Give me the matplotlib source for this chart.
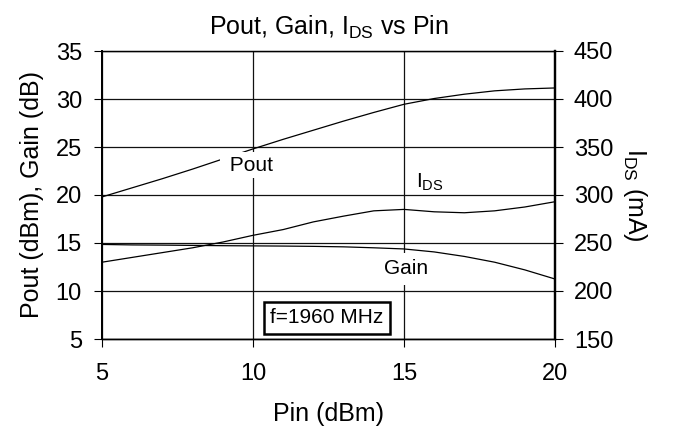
import matplotlib
matplotlib.use("Agg")
import matplotlib.pyplot as plt

plt.rcParams['font.family'] = ['Liberation Sans', 'DejaVu Sans']
plt.rcParams['mathtext.default'] = 'regular'

# data (Pin in dBm)
pin = [5, 6, 7, 8, 9, 10, 11, 12, 13, 14, 15, 16, 17, 18, 19, 20]
pout = [19.8, 20.75, 21.7, 22.7, 23.75, 24.8, 25.8, 26.75, 27.7, 28.6,
        29.45, 30.05, 30.5, 30.85, 31.05, 31.15]
gain = [14.85, 14.8, 14.78, 14.75, 14.72, 14.7, 14.68, 14.65, 14.6, 14.5,
        14.38, 14.07, 13.6, 13.0, 12.2, 11.25]
ids = [230, 235, 240, 245, 251, 258, 264, 272, 278, 283.5,
       285, 282.5, 281.5, 283.5, 287.5, 293]

xticks = [5, 10, 15, 20]
left_ticks = [5, 10, 15, 20, 25, 30, 35]
right_ticks = [150, 200, 250, 300, 350, 400, 450]

W, H = 673, 428
fig = plt.figure(figsize=(W / 100, H / 100), dpi=100)
ax = fig.add_axes([102 / W, 1 - 339 / H, 453 / W, 288 / H])
ax.set_axisbelow(True)

ax.plot(pin, pout, color='k', lw=0.9, zorder=3)
ax.plot(pin, gain, color='k', lw=0.9, zorder=3)

ax.set_xlim(5, 20)
ax.set_ylim(5, 35)
ax.set_xticks(xticks)
ax.set_yticks(left_ticks)
ax.grid(True, color='#111111', lw=0.9)

ax2 = ax.twinx()
ax2.plot(pin, ids, color='k', lw=0.9)
ax2.set_ylim(150, 450)
ax2.set_yticks(right_ticks)

ax.tick_params(axis='x', direction='out', length=5.5, width=0.8, pad=12,
               labelsize=17, colors='k')
ax.tick_params(axis='y', direction='out', length=5.5, width=0.8, pad=9,
               labelsize=17, colors='k')
ax2.tick_params(axis='y', direction='out', length=5.5, width=0.8, pad=8,
                labelsize=17, colors='k')

for a in (ax, ax2):
    a.spines['left'].set_linewidth(1.3)
    a.spines['right'].set_linewidth(1.6)
    a.spines['top'].set_linewidth(0.9)
    a.spines['bottom'].set_linewidth(1.0)

ax.set_xlabel('Pin (dBm)', fontsize=18, labelpad=12)
ax.set_ylabel('Pout (dBm), Gain (dB)', fontsize=18, labelpad=8)
ax2.set_ylabel(r'$\mathregular{I_{DS}}$ (mA)', fontsize=18, rotation=270,
               va='bottom', labelpad=6)
ax.set_title(r'Pout, Gain, $\mathregular{I_{DS}}$ vs Pin', fontsize=18, pad=12)

# curve labels
ax2.text(9.93, 23.1, ' Pout ', transform=ax.transData, fontsize=15,
         ha='center', va='center', zorder=6,
         bbox=dict(boxstyle='square,pad=0.17', fc='white', ec='none'))
ax.text(15.06, 12.3, 'Gain', fontsize=15, ha='center', va='center',
        zorder=1.5,
        bbox=dict(boxstyle='square,pad=0.32', fc='white', ec='none'))
ax2.text(15.86, 21.35, r'$\mathregular{I_{DS}}$', transform=ax.transData,
         fontsize=15, ha='center', va='center', zorder=6)
ax2.text(12.45, 7.2, 'f=1960 MHz', transform=ax.transData, fontsize=15,
         ha='center', va='center', zorder=6,
         bbox=dict(boxstyle='square,pad=0.3', fc='white', ec='k', lw=1.8))

fig.savefig('out.png', dpi=100)
